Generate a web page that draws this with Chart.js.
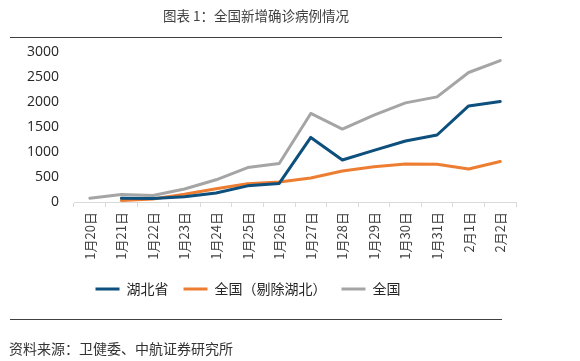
<!DOCTYPE html>
<html>
<head>
<meta charset="utf-8">
<script src="https://cdn.jsdelivr.net/npm/chart.js@4"></script>
<style>
  body { margin: 0; width: 580px; height: 361px; background: #fff; position: relative; overflow: hidden; font-family: "Noto Sans CJK SC", sans-serif; }
  #grafica { position: absolute; left: 0; top: 0; }
  #titulo { position: absolute; left: 0; top: 6px; width: 512px; text-align: center; font-size: 13.5px; line-height: 18px; color: #404040; }
  .regla { position: absolute; left: 10px; width: 492px; height: 1px; background: #404040; }
  #fuente { position: absolute; left: 9px; top: 339px; font-size: 14px; line-height: 18px; color: #333; }
</style>
</head>
<body>
<canvas id="grafica" width="580" height="361"></canvas>
<div id="titulo">图表 1：全国新增确诊病例情况</div>
<div class="regla" style="top:37px"></div>
<div class="regla" style="top:319px"></div>
<div id="fuente">资料来源：卫健委、中航证券研究所</div>

<script>
// 📅 DATOS
const fechas = ["1月20日", "1月21日", "1月22日", "1月23日", "1月24日", "1月25日", "1月26日",
  "1月27日", "1月28日", "1月29日", "1月30日", "1月31日", "2月1日", "2月2日"];
const hubei = [null, 75, 70, 105, 180, 323, 371, 1291, 840, 1032, 1220, 1340, 1921, 2010];
const sinHubei = [null, 30, 60, 154, 264, 365, 398, 480, 619, 705, 762, 755, 660, 810];
const nacional = [77, 149, 131, 259, 444, 688, 769, 1771, 1459, 1737, 1982, 2102, 2590, 2829];
const ticksY = [0, 500, 1000, 1500, 2000, 2500, 3000];

const nombres = ["湖北省", "全国（剔除湖北）", "全国"];
const colores = ["#0d4f7d", "#ed7d31", "#a5a5a5"];

function serie(i, datos) {
  return {
    label: nombres[i],
    data: datos,
    borderColor: colores[i],
    backgroundColor: colores[i],
    borderWidth: 3,
    borderJoinStyle: "round",
    borderCapStyle: "round",
    pointRadius: 0,
    tension: 0
  };
}

// 🔧 mover la leyenda un poco a la izquierda
const moverLeyenda = {
  id: "moverLeyenda",
  afterLayout(chart) {
    chart.legend.left -= 10;
    chart.legend.right -= 10;
  }
};

const ctx = document.getElementById("grafica").getContext("2d");

new Chart(ctx, {
  type: "line",
  data: {
    labels: fechas,
    datasets: [serie(0, hubei), serie(1, sinHubei), serie(2, nacional)]
  },
  options: {
    responsive: false,
    animation: false,
    layout: { padding: { top: 52, right: 64, left: 0, bottom: 55 } },
    plugins: {
      tooltip: { enabled: false },
      legend: {
        position: "bottom",
        labels: {
          boxWidth: 24,
          boxHeight: 3,
          padding: 15,
          color: "#262626",
          font: { family: "Noto Sans CJK SC", size: 14 },
          generateLabels: chart =>
            Chart.defaults.plugins.legend.labels.generateLabels(chart).map(l => ({ ...l, lineWidth: 0 }))
        }
      }
    },
    scales: {
      x: {
        offset: true,
        grid: { drawOnChartArea: false, offset: true, tickLength: 5, color: "#d9d9d9" },
        border: { color: "#d9d9d9" },
        ticks: {
          autoSkip: false,
          minRotation: 90,
          maxRotation: 90,
          padding: 5,
          color: "#404040",
          font: { family: "Noto Sans CJK SC", size: 13 }
        },
        afterFit(scale) { scale.height = 65; }
      },
      y: {
        min: 0,
        max: 3000,
        grid: { display: false, drawTicks: false },
        border: { display: false },
        afterBuildTicks(scale) { scale.ticks = ticksY.map(v => ({ value: v })); },
        ticks: {
          padding: 15,
          color: "#262626",
          font: { family: "Open Sans", size: 14 },
          callback: v => String(v)
        },
        afterFit(scale) { scale.width = 74; }
      }
    }
  },
  plugins: [moverLeyenda]
});
</script>
</body>
</html>
